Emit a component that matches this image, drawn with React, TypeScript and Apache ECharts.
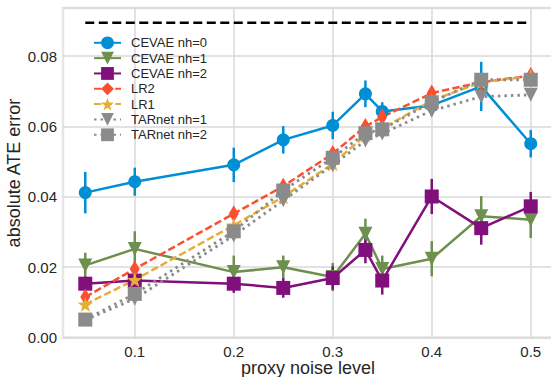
import React, { useEffect, useRef } from "react";
import * as echarts from "echarts";

const noiseLevels = [0.05, 0.1, 0.2, 0.25, 0.3, 0.333, 0.35, 0.4, 0.45, 0.5];
const cevae0 = [0.0412, 0.0443, 0.0491, 0.0562, 0.0603, 0.0693, 0.0643, 0.066, 0.0714, 0.0551];
const cevae0Err = [0.0059, 0.004, 0.0049, 0.0039, 0.0039, 0.0038, 0.0026, 0.003, 0.007, 0.0039];
const cevae1 = [0.0205, 0.0252, 0.0186, 0.02, 0.0172, 0.0295, 0.0195, 0.0224, 0.0345, 0.0335];
const cevae1Err = [0.0036, 0.005, 0.0047, 0.0033, 0.004, 0.0043, 0.0038, 0.005, 0.0057, 0.0052];
const cevae2 = [0.0153, 0.0162, 0.0153, 0.0141, 0.0169, 0.0249, 0.0162, 0.0401, 0.0311, 0.0373];
const cevae2Err = [0.002, 0.002, 0.0026, 0.0028, 0.0033, 0.0038, 0.004, 0.005, 0.0047, 0.0041];
const lr2 = [0.0115, 0.0195, 0.0352, 0.043, 0.0523, 0.06, 0.0627, 0.0695, 0.0726, 0.0745];
const lr1 = [0.0094, 0.0164, 0.0319, 0.04, 0.0494, 0.0575, 0.0594, 0.0674, 0.0726, 0.0743];
const tarnet1 = [0.005, 0.011, 0.029, 0.039, 0.049, 0.056, 0.058, 0.0645, 0.0685, 0.069];
const tarnet2 = [0.0051, 0.0124, 0.0302, 0.0418, 0.0511, 0.0581, 0.0592, 0.0669, 0.0733, 0.0733];
const referenceLevel = 0.0895;
const xTickValues = [0.1, 0.2, 0.3, 0.4, 0.5];
const seriesNames = ["CEVAE nh=0", "CEVAE nh=1", "CEVAE nh=2", "LR2", "LR1", "TARnet nh=1", "TARnet nh=2"];
const xTitle = "proxy noise level";
const yTitle = "absolute ATE error";

const FONT = "Liberation Sans, Arial, sans-serif";
const STAR =
  "path://M0,-10 L2.35,-3.24 L9.51,-3.09 L3.8,1.24 L5.88,8.09 L0,4 L-5.88,8.09 L-3.8,1.24 L-9.51,-3.09 L-2.35,-3.24 Z";

function lineSeries(
  name: string,
  ys: number[],
  color: string,
  symbol: string,
  size: any,
  lineType: any,
  width: number,
  rotate = 0
) {
  return {
    type: "line",
    name,
    data: noiseLevels.map((x, i) => [x, ys[i]]),
    symbol,
    symbolSize: size,
    symbolRotate: rotate,
    showAllSymbol: true,
    itemStyle: { color, borderWidth: 0 },
    lineStyle: { color, width, type: lineType },
    emphasis: { disabled: true },
    silent: true,
  };
}

function errSeries(ys: number[], es: number[], color: string) {
  return {
    type: "custom",
    silent: true,
    data: noiseLevels.map((x, i) => [x, ys[i], es[i]]),
    encode: { x: 0, y: 1 },
    renderItem: (_params: any, api: any) => {
      const x = api.value(0);
      const y = api.value(1);
      const e = api.value(2);
      const p1 = api.coord([x, y - e]);
      const p2 = api.coord([x, y + e]);
      return {
        type: "line",
        shape: { x1: p1[0], y1: p1[1], x2: p2[0], y2: p2[1] },
        style: { stroke: color, lineWidth: 2.5 },
      };
    },
  };
}

export default function App() {
  const ref = useRef<HTMLDivElement>(null);
  useEffect(() => {
    if (!ref.current) return;
    const chart = echarts.init(ref.current, undefined, { renderer: "svg" });
    const blue = "#008fd5";
    const green = "#6d904f";
    const purple = "#810f7c";
    const red = "#fc4f30";
    const gold = "#e5ae38";
    const gray = "#8b8b8b";
    chart.setOption({
      animation: false,
      backgroundColor: "#ffffff",
      textStyle: { fontFamily: FONT },
      grid: {
        left: 63,
        top: 8,
        width: 490,
        height: 329.5,
        show: true,
        borderColor: "#e6e6e6",
        borderWidth: 2.5,
        containLabel: false,
        outerBoundsMode: "none",
      },
      graphic: [
        {
          type: "text",
          x: 308,
          y: 368,
          silent: true,
          style: {
            text: xTitle,
            font: `18px ${FONT}`,
            fill: "#262626",
            align: "center",
            verticalAlign: "middle",
          },
        },
        {
          type: "text",
          x: 14,
          y: 173,
          rotation: Math.PI / 2,
          silent: true,
          style: {
            text: yTitle,
            font: `18px ${FONT}`,
            fill: "#262626",
            align: "center",
            verticalAlign: "middle",
          },
        },
      ],
      legend: {
        orient: "vertical",
        left: 88,
        top: 31.3,
        itemWidth: 27,
        itemHeight: 16,
        itemGap: 2.33,
        data: seriesNames,
        textStyle: { fontSize: 13, color: "#262626", fontFamily: FONT, padding: [0, 0, 0, 5] },
        selectedMode: false,
      },
      xAxis: {
        type: "value",
        min: 0.0275,
        max: 0.5225,
        axisLine: { show: false },
        axisTick: { show: false, customValues: xTickValues },
        axisLabel: {
          customValues: xTickValues,
          fontSize: 15,
          color: "#262626",
          margin: 6,
          fontFamily: FONT,
          formatter: (v: number) => String(Math.round(v * 10) / 10),
        },
        splitLine: { show: true, lineStyle: { color: "#d9d9d9", width: 1.5 } },
      },
      yAxis: {
        type: "value",
        min: 0,
        max: 0.0937,
        interval: 0.02,
        axisLine: { show: false },
        axisTick: { show: false },
        axisLabel: {
          fontSize: 15,
          color: "#262626",
          margin: 6,
          fontFamily: FONT,
          showMaxLabel: false,
          formatter: (v: number) => v.toFixed(2),
        },
        splitLine: { show: true, lineStyle: { color: "#d9d9d9", width: 1.5 } },
      },
      series: [
        {
          type: "line",
          name: "reference",
          data: [
            [0.05, referenceLevel],
            [0.5, referenceLevel],
          ],
          symbol: "none",
          lineStyle: { color: "#000000", width: 2.5, type: [9, 4.5] },
          silent: true,
        },
        errSeries(cevae0, cevae0Err, blue),
        lineSeries("CEVAE nh=0", cevae0, blue, "circle", 13, "solid", 2.5),
        errSeries(cevae1, cevae1Err, green),
        lineSeries("CEVAE nh=1", cevae1, green, "triangle", 14, "solid", 2.5, 180),
        errSeries(cevae2, cevae2Err, purple),
        lineSeries("CEVAE nh=2", cevae2, purple, "rect", 14, "solid", 2.5),
        lineSeries("LR2", lr2, red, "diamond", [10, 17], [7.4, 3.2], 2.5),
        lineSeries("LR1", lr1, gold, STAR, 15, [7.4, 3.2], 2.5),
        lineSeries("TARnet nh=1", tarnet1, gray, "triangle", 14, [2.5, 4], 2.8, 180),
        lineSeries("TARnet nh=2", tarnet2, gray, "rect", 14, [2.5, 4], 2.8),
      ],
    });
    return () => chart.dispose();
  }, []);
  return (
    <div
      ref={ref}
      style={{ position: "absolute", left: 0, top: 0, width: 551, height: 377, background: "#fff" }}
    />
  );
}
